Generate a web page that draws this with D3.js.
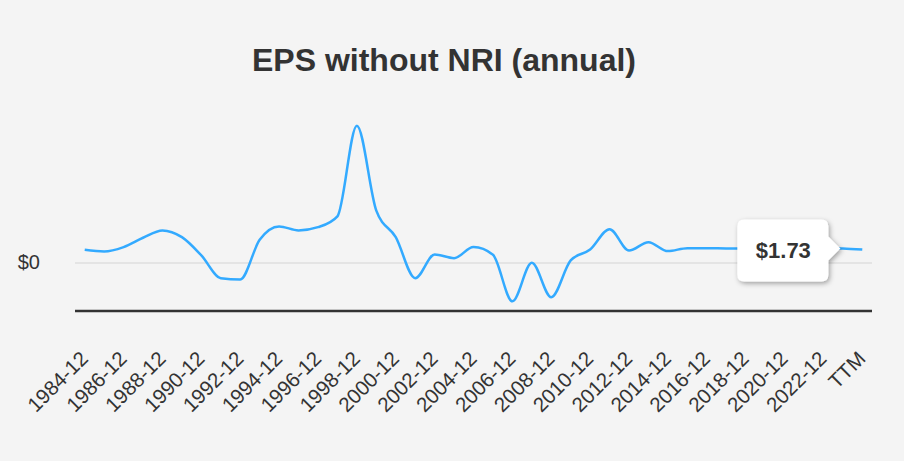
<!DOCTYPE html>
<html>
<head>
<meta charset="utf-8">
<script src="https://cdn.jsdelivr.net/npm/d3@7"></script>
<style>
  html, body { margin: 0; padding: 0; background: #f4f4f4; }
  svg { display: block; font-family: "Liberation Sans", Arial, sans-serif; }
</style>
</head>
<body>
<svg id="chart" width="904" height="461"></svg>
<script>
const titleText = "EPS without NRI (annual)";
const categories = ["1984-12","1985-12","1986-12","1987-12","1988-12","1989-12","1990-12","1991-12","1992-12","1993-12",
  "1994-12","1995-12","1996-12","1997-12","1998-12","1999-12","2000-12","2001-12","2002-12","2003-12",
  "2004-12","2005-12","2006-12","2007-12","2008-12","2009-12","2010-12","2011-12","2012-12","2013-12",
  "2014-12","2015-12","2016-12","2017-12","2018-12","2019-12","2020-12","2021-12","2022-12","2023-12","TTM"];
const epsValues = [1.57,1.36,1.9,3.05,3.96,3.13,0.87,-1.94,-2.1,2.8,
  4.45,3.96,4.36,5.7,16.9,6.4,3.13,-1.94,0.99,0.53,
  1.9,0.95,-4.8,-0.04,-4.3,0.25,1.6,4.1,1.48,2.5,
  1.4,1.77,1.77,1.73,1.72,1.72,1.75,1.78,1.8,1.73,1.6];
const tickLabels = ["1984-12","1986-12","1988-12","1990-12","1992-12","1994-12","1996-12","1998-12","2000-12","2002-12",
  "2004-12","2006-12","2008-12","2010-12","2012-12","2014-12","2016-12","2018-12","2020-12","2022-12","TTM"];
const yTickValues = [0];
const yDomain = [-6, 18];
const tooltipIndex = 39;

(function () {
const svg = d3.select("#chart");
const plotLeft = 75, plotRight = 872, plotTop = 116.8, plotBottom = 311;

const x = d3.scalePoint().domain(categories).range([plotLeft, plotRight]).padding(0.5);
const y = d3.scaleLinear().domain(yDomain).range([plotBottom, plotTop]);

// title
svg.append("text")
  .attr("x", 444).attr("y", 70.5)
  .attr("text-anchor", "middle")
  .attr("font-size", 32).attr("font-weight", "bold")
  .attr("fill", "#333")
  .text(titleText);

// y gridline + label
const yAxis = d3.axisLeft(y).tickValues(yTickValues).tickSize(-(plotRight - plotLeft)).tickFormat(d => "$" + d);
const gy = svg.append("g").attr("transform", `translate(${plotLeft},0)`).call(yAxis);
gy.select(".domain").remove();
gy.selectAll(".tick line").attr("stroke", "#e4e4e4").attr("stroke-width", 2);
gy.selectAll(".tick text").attr("x", -35).attr("font-size", 20).attr("fill", "#333")
  .attr("font-family", "Liberation Sans, Arial, sans-serif");

// x axis
const xAxis = d3.axisBottom(x).tickValues(tickLabels).tickSize(0).tickSizeOuter(0);
const gx = svg.append("g").attr("transform", `translate(0,${plotBottom})`).call(xAxis);
gx.select(".domain").attr("stroke", "#333").attr("stroke-width", 2.5)
  .attr("d", `M${plotLeft},0H${plotRight}`);
gx.selectAll(".tick text")
  .attr("font-size", 20.5).attr("fill", "#333")
  .attr("font-family", "Liberation Sans, Arial, sans-serif")
  .attr("text-anchor", "end")
  .attr("dy", 0).attr("y", 0)
  .attr("transform", "translate(4,49) rotate(-45)");

// line
const line = d3.line()
  .x((d, i) => x(categories[i]))
  .y(d => y(d))
  .curve(d3.curveMonotoneX);
svg.append("path")
  .datum(epsValues)
  .attr("fill", "none")
  .attr("stroke", "#33aaff")
  .attr("stroke-width", 2.5)
  .attr("d", line);

// tooltip
const defs = svg.append("defs");
const f = defs.append("filter").attr("id", "shadow").attr("x", "-30%").attr("y", "-30%").attr("width", "160%").attr("height", "160%");
f.append("feDropShadow").attr("dx", 1.5).attr("dy", 2).attr("stdDeviation", 2.5)
  .attr("flood-color", "#000").attr("flood-opacity", 0.35);

const px = x(categories[tooltipIndex]) - 2.5, py = y(epsValues[tooltipIndex]);
const bw = 91, bh = 62, r = 7;
const bx = px - 12 - bw, by = py - 29;
const tipPath = `M${bx + r},${by} H${bx + bw - r} Q${bx + bw},${by} ${bx + bw},${by + r}
  V${py - 12} L${px},${py} L${bx + bw},${py + 12}
  V${by + bh - r} Q${bx + bw},${by + bh} ${bx + bw - r},${by + bh}
  H${bx + r} Q${bx},${by + bh} ${bx},${by + bh - r} V${by + r} Q${bx},${by} ${bx + r},${by} Z`;
svg.append("path").attr("d", tipPath).attr("fill", "#fff").attr("filter", "url(#shadow)");
svg.append("text")
  .attr("x", bx + bw / 2 + 0.5).attr("y", by + bh / 2 + 8)
  .attr("text-anchor", "middle")
  .attr("font-size", 22).attr("font-weight", "bold").attr("fill", "#333")
  .text("$" + d3.format(".2f")(epsValues[tooltipIndex]));
})();
</script>
</body>
</html>
